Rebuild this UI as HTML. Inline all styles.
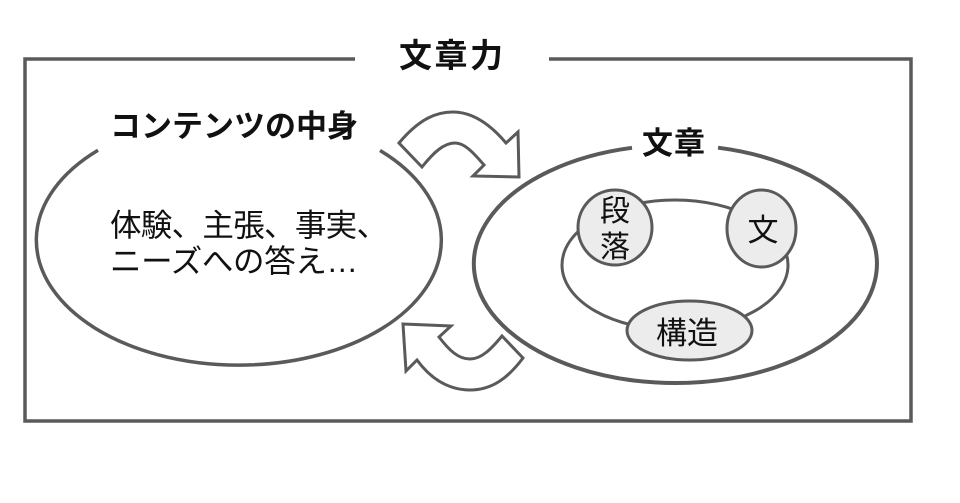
<!DOCTYPE html>
<html>
<head>
<meta charset="utf-8">
<style>
html,body{margin:0;padding:0;background:#fff;}
svg{display:block;}
text{font-family:"Liberation Sans","Noto Sans CJK JP",sans-serif;fill:#111;}
</style>
</head>
<body>
<svg width="960" height="503" viewBox="0 0 960 503" xmlns="http://www.w3.org/2000/svg">
  <rect x="0" y="0" width="960" height="503" fill="#fff"/>
  <!-- outer frame with gap for title -->
  <path d="M355,59 L25,59 L25,421 L911,421 L911,59 L549,59" fill="none" stroke="#5a5a5a" stroke-width="3.5"/>
  <text x="399" y="67" font-size="33" font-weight="bold" textLength="104" lengthAdjust="spacing">文章力</text>

  <!-- left ellipse -->
  <path d="M380,150.5 A202.5,125 0 1 1 98,150.3" fill="none" stroke="#5a5a5a" stroke-width="3.5"/>
  <text x="110" y="137" font-size="31" font-weight="bold" textLength="248" lengthAdjust="spacing">コンテンツの中身</text>
  <text x="110" y="236" font-size="31.5" textLength="278" lengthAdjust="spacing">体験、主張、事実、</text>
  <text x="110" y="272" font-size="31.5" textLength="248" lengthAdjust="spacing">ニーズへの答え…</text>

  <!-- top arrow -->
  <path d="M399,143 C420,118 437,112 453,112 C472,112 490,124 506,143 L518,132 L519,177 L473,176 L484,165 C472,151 464,143 455,143 C444,143 434,152 422,167 Z" fill="#fff" stroke="#5a5a5a" stroke-width="3" stroke-linejoin="miter"/>
  <!-- bottom arrow -->
  <path d="M403,324 L451,326 L439,337 C449,350 458,359 470,359 C482,359 492,348 502,336 L523,358 C508,378 492,390 470,390 C448,390 430,378 417,360 L406,371 Z" fill="#fff" stroke="#5a5a5a" stroke-width="3" stroke-linejoin="miter"/>

  <!-- right outer ellipse -->
  <path d="M718,147.7 A201.5,119 0 1 1 632,147.8" fill="none" stroke="#5a5a5a" stroke-width="4"/>
  <text x="642" y="154" font-size="31" font-weight="bold" textLength="63" lengthAdjust="spacing">文章</text>

  <!-- inner ellipse -->
  <ellipse cx="675" cy="265" rx="113" ry="65" fill="none" stroke="#5a5a5a" stroke-width="3"/>

  <!-- 段落 circle -->
  <ellipse cx="615" cy="227.5" rx="37" ry="37.5" fill="#ececec" stroke="#5a5a5a" stroke-width="3"/>
  <text x="615" y="221" font-size="30" text-anchor="middle">段</text>
  <text x="615" y="257" font-size="30" text-anchor="middle">落</text>

  <!-- 文 circle -->
  <ellipse cx="761.5" cy="228.5" rx="34.5" ry="38.5" fill="#ececec" stroke="#5a5a5a" stroke-width="3"/>
  <text x="763" y="241" font-size="31" text-anchor="middle">文</text>

  <!-- 構造 ellipse -->
  <ellipse cx="689.5" cy="330.5" rx="62.5" ry="29.5" fill="#ececec" stroke="#5a5a5a" stroke-width="3"/>
  <text x="687" y="344" font-size="31" text-anchor="middle">構造</text>
</svg>
</body>
</html>
